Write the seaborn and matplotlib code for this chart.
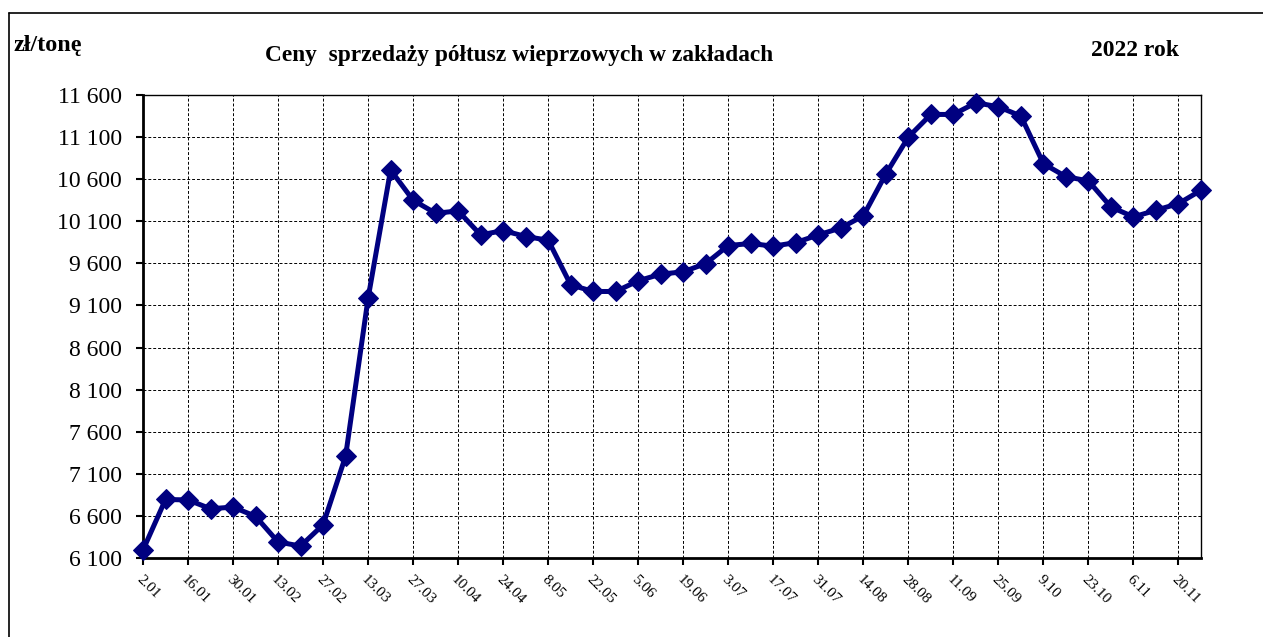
import matplotlib
matplotlib.use("Agg")
import matplotlib.pyplot as plt
import matplotlib.lines as mlines
import seaborn as sns
import pandas as pd

week_labels = ["2.01", "9.01", "16.01", "23.01", "30.01", "6.02", "13.02", "20.02",
               "27.02", "6.03", "13.03", "20.03", "27.03", "3.04", "10.04", "17.04",
               "24.04", "1.05", "8.05", "15.05", "22.05", "29.05", "5.06", "12.06",
               "19.06", "26.06", "3.07", "10.07", "17.07", "24.07", "31.07", "7.08",
               "14.08", "21.08", "28.08", "4.09", "11.09", "18.09", "25.09", "2.10",
               "9.10", "16.10", "23.10", "30.10", "6.11", "13.11", "20.11", "27.11"]
prices = [6195, 6795, 6790, 6685, 6705, 6595, 6290, 6242,
          6495, 7310, 9187, 10709, 10350, 10195, 10223, 9938,
          9990, 9919, 9875, 9345, 9266, 9266, 9393, 9472,
          9500, 9598, 9812, 9836, 9804, 9847, 9938, 10021,
          10164, 10662, 11100, 11369, 11369, 11508, 11460, 11350,
          10784, 10630, 10579, 10270, 10152, 10231, 10310, 10468]
y_ticks = [6100, 6600, 7100, 7600, 8100, 8600, 9100, 9600, 10100, 10600, 11100, 11600]

df = pd.DataFrame({"idx": range(len(prices)), "cena": prices})

sns.set_style("white")
plt.rcParams["font.family"] = ["Liberation Serif", "DejaVu Serif"]
plt.rcParams["text.color"] = "black"
plt.rcParams["xtick.color"] = "black"
plt.rcParams["ytick.color"] = "black"

fig = plt.figure(figsize=(12.63, 6.37), dpi=100)
ax = fig.add_axes([143/1263, 1-558/637, (1201-143)/1263, (558-95)/637])

sns.lineplot(data=df, x="idx", y="cena", ax=ax, color="#000080", linewidth=3.6,
             marker="D", markersize=10, markeredgecolor="#000080", zorder=5,
             clip_on=False)

ax.set_xlim(0, len(prices) - 1)
ax.set_ylim(6100, 11600)
ax.set_yticks(y_ticks)
ax.set_yticklabels([f"{v:,}".replace(",", " ") for v in y_ticks], fontsize=17,
                   color="black")
xt = list(range(0, len(prices), 2))
ax.set_xticks(xt)
ax.set_xticklabels([week_labels[i] for i in xt], rotation=-45, ha="left",
                   rotation_mode="anchor", fontsize=11, color="black")
ax.set_xlabel("")
ax.set_ylabel("")
ax.grid(True, color="black", linestyle=(0, (3, 2)), linewidth=0.7)
ax.tick_params(axis="both", direction="out", length=5, width=1.5, color="black",
               left=True, bottom=True)
ax.tick_params(axis="y", pad=10)
ax.tick_params(axis="x", pad=6)
for s in ["left", "bottom"]:
    ax.spines[s].set_linewidth(2)
    ax.spines[s].set_color("black")
for s in ["top", "right"]:
    ax.spines[s].set_linewidth(1)
    ax.spines[s].set_color("black")
ax.set_axisbelow(True)

fig.text(519/1263, 1-55/637, "Ceny  sprzedaży półtusz wieprzowych w zakładach",
         ha="center", va="center", fontsize=16.8, fontweight="bold", color="black")
fig.text(14/1263, 1-45/637, "zł/tonę", ha="left", va="center", fontsize=17.5,
         fontweight="bold", color="black")
fig.text(1135/1263, 1-50/637, "2022 rok", ha="center", va="center", fontsize=17,
         fontweight="bold", color="black")

fig.add_artist(mlines.Line2D([9/1263, 1.0], [1-13/637, 1-13/637], color="black",
                             linewidth=1.2, transform=fig.transFigure))
fig.add_artist(mlines.Line2D([9/1263, 9/1263], [0, 1-13/637], color="black",
                             linewidth=1.2, transform=fig.transFigure))

fig.savefig("out.png", dpi=100)
